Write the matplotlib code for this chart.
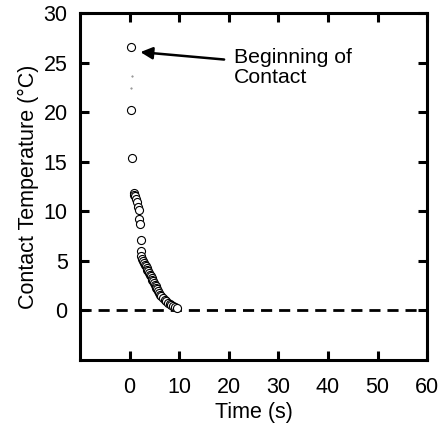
import matplotlib
matplotlib.use('Agg')
from matplotlib import pyplot as plt

plt.rcParams['font.family'] = ['Liberation Sans', 'DejaVu Sans']

# measured contact temperature after touching
time_s = [0.2, 0.2, 0.4, 0.8, 0.85, 1.0, 1.35, 1.5, 1.7, 1.8, 1.9, 2.0, 2.2,
          2.25, 2.35, 2.5, 2.7, 2.85, 3.05, 3.2, 3.4, 3.55, 3.7, 3.9, 4.05,
          4.2, 4.4, 4.55, 4.7, 4.9, 5.05, 5.25, 5.4, 5.55, 5.75, 5.9, 6.1,
          6.4, 6.75, 7.1, 7.4, 7.8, 8.1, 8.4, 8.75, 9.1, 9.45]
temp_c = [26.6, 20.2, 15.4, 11.9, 11.7, 11.5, 11.2, 10.9, 10.4, 10.1, 9.2,
          8.7, 7.1, 6.0, 5.5, 5.2, 4.95, 4.8, 4.6, 4.45, 4.3, 4.1, 3.95, 3.8,
          3.6, 3.45, 3.3, 3.1, 2.95, 2.8, 2.6, 2.45, 2.3, 2.15, 1.95, 1.8,
          1.6, 1.45, 1.3, 1.1, 0.95, 0.8, 0.65, 0.55, 0.43, 0.35, 0.27]
# two faint points between the first readings
faint_t = [0.4, 0.3]
faint_c = [23.7, 22.5]

fig = plt.figure(figsize=(4.45, 4.26), dpi=100)
ax = fig.add_axes([0.180, 0.155, 0.780, 0.814])

ax.axhline(0, color='black', lw=2, ls=(0, (4, 2.5)), zorder=1)
ax.plot(time_s, temp_c, 'o', mfc='white', mec='black', ms=5.8, mew=0.8, zorder=3)
ax.plot(faint_t, faint_c, '.', color='gray', ms=1, zorder=3)

ax.annotate('', xy=(1.6, 26.1), xytext=(19.6, 25.3),
            arrowprops=dict(arrowstyle='-|>', color='black', lw=1.8, mutation_scale=18))
ax.text(21.0, 24.5, 'Beginning of\nContact', fontsize=15.3, ha='left', va='center',
        linespacing=1.1)

ax.set_xlim(-10, 60)
ax.set_ylim(-5, 30)
ax.set_xticks(range(0, 61, 10))
ax.set_yticks(range(0, 31, 5))
ax.tick_params(axis='both', direction='in', length=6.5, width=2.2, labelsize=15.5,
               top=True, right=True)
ax.tick_params(axis='x', pad=12)
ax.tick_params(axis='y', pad=9)
for s in ax.spines.values():
    s.set_linewidth(2.2)

ax.set_xlabel('Time (s)', fontsize=15.5, labelpad=3)
ax.set_ylabel('Contact Temperature (°C)', fontsize=15.5, labelpad=3)

fig.savefig('out.png', dpi=100)
